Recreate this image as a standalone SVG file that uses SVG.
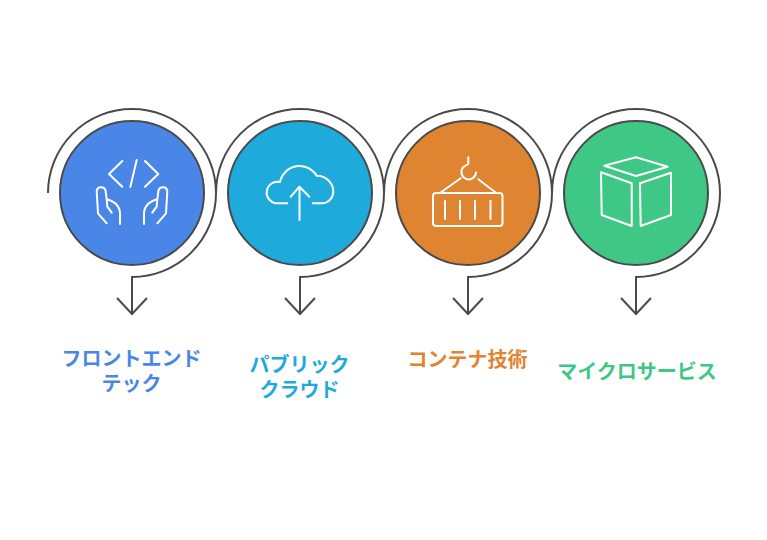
<svg xmlns="http://www.w3.org/2000/svg" width="767" height="540" viewBox="0 0 767 540">
<style>
.disc{stroke:#4a4a4a;stroke-width:2}
.conn{fill:none;stroke:#4a4a4a;stroke-width:2}
.icon{fill:none;stroke:#fff;stroke-width:2;stroke-linecap:round;stroke-linejoin:round}
text{font-family:"Noto Sans CJK JP","Noto Sans CJK SC",sans-serif;font-size:20px;font-weight:700;text-anchor:middle}
</style>
<rect width="767" height="540" fill="#fff"/>
<g id="connectors">
<path class="conn" d="M48 193A84 84 0 1 1 132 277V314M117 298L132 314L147 298"/>
<path class="conn" d="M216 193A84 84 0 1 1 300 277V314M285 298L300 314L315 298"/>
<path class="conn" d="M384 193A84 84 0 1 1 468 277V314M453 298L468 314L483 298"/>
<path class="conn" d="M552 193A84 84 0 1 1 636 277V314M621 298L636 314L651 298"/>
</g>
<g id="node-frontend">
<circle class="disc" cx="132" cy="193" r="72" fill="#4a86e8"/>
<path class="icon" d="M122.300 161L109 174L122.300 186.700M136.700 160L130.300 187M145 161L158.300 174L145 186.700"/>
<path class="icon" d="M106.700 223.300L98 213.300L96.700 192Q96.700 187.300 101 187.300Q105.500 187.300 105.700 192L106.700 199.300Q120 203 120 214V224M106.700 199.300L107.300 206.700L111.700 212.700"/>
<path class="icon" d="M157.300 223.300L166 213.300L167.300 192Q167.300 187.300 163 187.300Q158.500 187.300 158.300 192L157.300 199.300Q144 203 144 214V224M157.300 199.300L156.700 206.700L152.300 212.700"/>
<text fill="#4a86e8"><tspan x="131.500" y="366">フロントエンド</tspan><tspan x="131.500" y="391">テック</tspan></text>
</g>
<g id="node-cloud">
<circle class="disc" cx="300" cy="193" r="72" fill="#1eaadb"/>
<path class="icon" d="M287.300 203.300H278A10.800 10.800 0 1 1 280 182A20 20 0 0 1 316.700 175.700C326 175.700 333.300 183 333.300 191.500C333.300 198 328 203.300 322 203.300H312.700M299.500 220V186.700M290.700 196.700L299.500 186.700L309.300 196.700"/>
<text fill="#1eaadb"><tspan x="299.500" y="372">パブリック</tspan><tspan x="299.500" y="397">クラウド</tspan></text>
</g>
<g id="node-container">
<circle class="disc" cx="468" cy="193" r="72" fill="#df8430"/>
<rect class="icon" x="433" y="193" width="69.500" height="33" rx="3"/>
<path class="icon" d="M440.700 192.500L460.700 178.300M495.700 192.500L478.300 179.300M445 200.700V219M460 200.700V219M475 200.700V219M490.500 200.700V219M468.300 157.300V164L464 166.500A7.300 7.300 0 1 0 476 172.500"/>
<text x="467.500" y="367" fill="#df8430">コンテナ技術</text>
</g>
<g id="node-micro">
<circle class="disc" cx="636" cy="193" r="72" fill="#3ec785"/>
<path class="icon" d="M604.300 165.700L636 157.300L667.700 166.700L636 176ZM601 172.300L631.700 183.300V226L601.700 215ZM640 183.300L671 172.700V215L640.700 226Z"/>
<text x="637" y="379" fill="#3ec785">マイクロサービス</text>
</g>
</svg>
